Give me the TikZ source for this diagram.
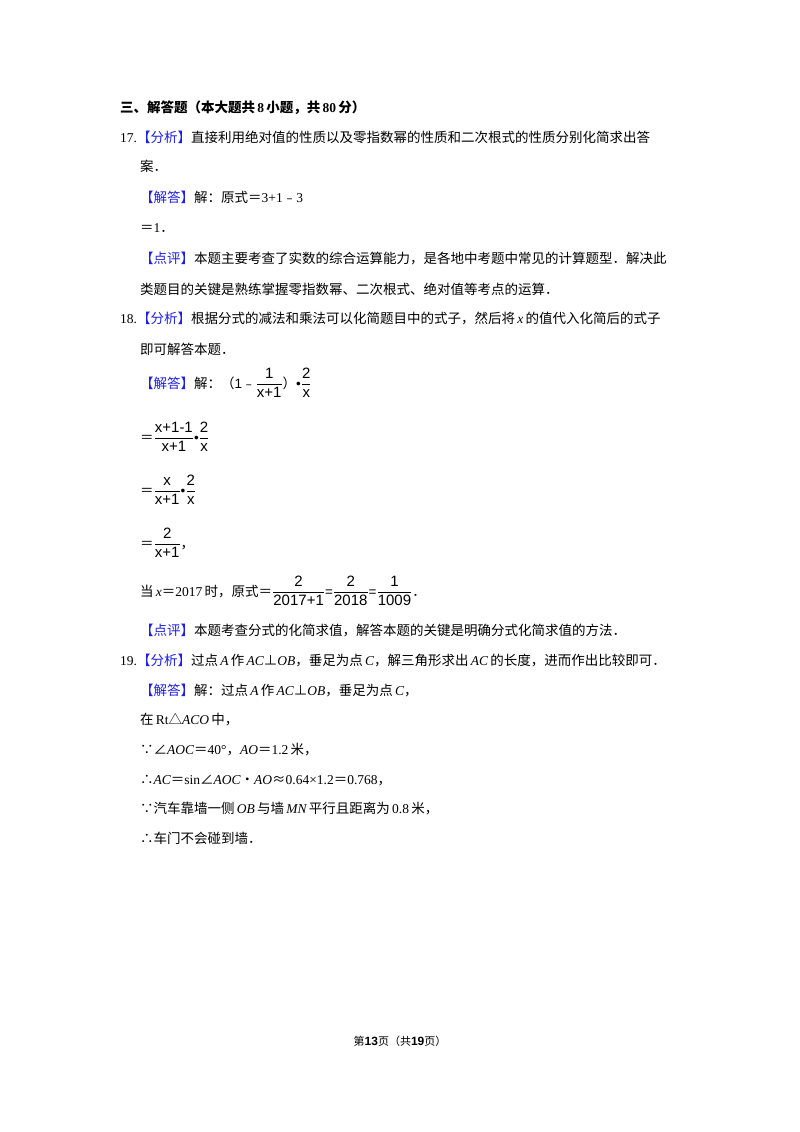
\documentclass[tikz,border=0pt]{standalone}
\usepackage{fontspec}
\setmainfont{Liberation Serif}
\setsansfont{Liberation Sans}
\newfontfamily\cjk{Noto Sans CJK SC}
\newfontfamily\cjkb{Noto Sans CJK SC}
\definecolor{lblue}{RGB}{30,30,235}
\newcommand{\tag}[1]{{\cjkb\color{lblue}【}{\cjk\color{lblue}#1}{\cjkb\color{lblue}】}}
\newcommand{\mn}{{\cjkb ﹣}}
\newcommand{\sfr}[2]{{\fontsize{15}{17}\selectfont$\displaystyle\frac{\textsf{#1}}{\textsf{#2}}$}}
\begin{document}
\begin{tikzpicture}[x=1pt,y=-1pt,
  t/.style={anchor=base west,inner sep=0pt,font=\fontsize{13.5}{16}\selectfont\cjkb}]
\useasboundingbox (0,0) rectangle (800,1132);
\fill[white] (0,0) rectangle (800,1132);
\node[t] (a) at (120,112) {\bfseries 三、解答题（本大题共\,{\rmfamily 8}\,小题，共\,{\rmfamily 80}\,分）};
\node[t] (b) at (120,142) {{\rmfamily 17.}\tag{分析}直接利用绝对值的性质以及零指数幂的性质和二次根式的性质分别化简求出答};
\node[t] (c) at (140,171) {案．};
\node[t] (d) at (140,202) {\tag{解答}解：原式＝{\rmfamily 3+1}\mn{\rmfamily 3}};
\node[t] (e) at (140,232) {＝{\rmfamily 1}．};
\node[t] (f) at (140,263) {\tag{点评}本题主要考查了实数的综合运算能力，是各地中考题中常见的计算题型．解决此};
\node[t] (g) at (140,294) {类题目的关键是熟练掌握零指数幂、二次根式、绝对值等考点的运算．};
\node[t] (h) at (120,323) {{\rmfamily 18.}\tag{分析}根据分式的减法和乘法可以化简题目中的式子，然后将\,{\rmfamily\itshape x}\,的值代入化简后的式子};
\node[t] (i) at (140,354) {即可解答本题．};
\node[t] (j) at (140,388) {\tag{解答}解：（{\sffamily 1}\mn\sfr{1}{x+1}）{\sffamily •}\sfr{2}{x}};
\node[t] (k) at (140,442) {＝\sfr{x+1-1}{x+1}{\sffamily •}\sfr{2}{x}};
\node[t] (l) at (140,495) {＝\sfr{x}{x+1}{\sffamily •}\sfr{2}{x}};
\node[t] (m) at (140,548) {＝\sfr{2}{x+1}，};
\node[t] (n) at (140,596) {当\,{\rmfamily\itshape x}＝{\rmfamily 2017}\,时，原式＝\sfr{2}{2017+1}{\sffamily =}\sfr{2}{2018}{\sffamily =}\sfr{1}{1009}．};
\node[t] (o) at (140,635) {\tag{点评}本题考查分式的化简求值，解答本题的关键是明确分式化简求值的方法．};
\node[t] (p) at (120,665) {{\rmfamily 19.}\tag{分析}过点\,{\rmfamily\itshape A}\,作\,{\rmfamily\itshape AC}⊥{\rmfamily\itshape OB}，垂足为点\,{\rmfamily\itshape C}，解三角形求出\,{\rmfamily\itshape AC}\,的长度，进而作出比较即可．};
\node[t] (q) at (140,695) {\tag{解答}解：过点\,{\rmfamily\itshape A}\,作\,{\rmfamily\itshape AC}⊥{\rmfamily\itshape OB}，垂足为点\,{\rmfamily\itshape C}，};
\node[t] (r) at (140,724) {在\,{\rmfamily Rt}△{\rmfamily\itshape ACO}\,中，};
\node[t] (s) at (140,754) {∵∠{\rmfamily\itshape AOC}＝{\rmfamily 40°}，{\rmfamily\itshape AO}＝{\rmfamily 1.2}\,米，};
\node[t] (u) at (140,784) {∴{\rmfamily\itshape AC}＝{\rmfamily sin}∠{\rmfamily\itshape AOC}•{\rmfamily\itshape AO}≈{\rmfamily 0.64×1.2}＝{\rmfamily 0.768}，};
\node[t] (v) at (140,813) {∵汽车靠墙一侧\,{\rmfamily\itshape OB}\,与墙\,{\rmfamily\itshape MN}\,平行且距离为\,{\rmfamily 0.8}\,米，};
\node[t] (w) at (140,843) {∴车门不会碰到墙．};
\node[t,anchor=base,font=\fontsize{11}{13}\selectfont\cjkb] (z) at (400,1045) {第{\bfseries\sffamily\large 13}页（共{\bfseries\sffamily\large 19}页）};
\end{tikzpicture}
\end{document}
